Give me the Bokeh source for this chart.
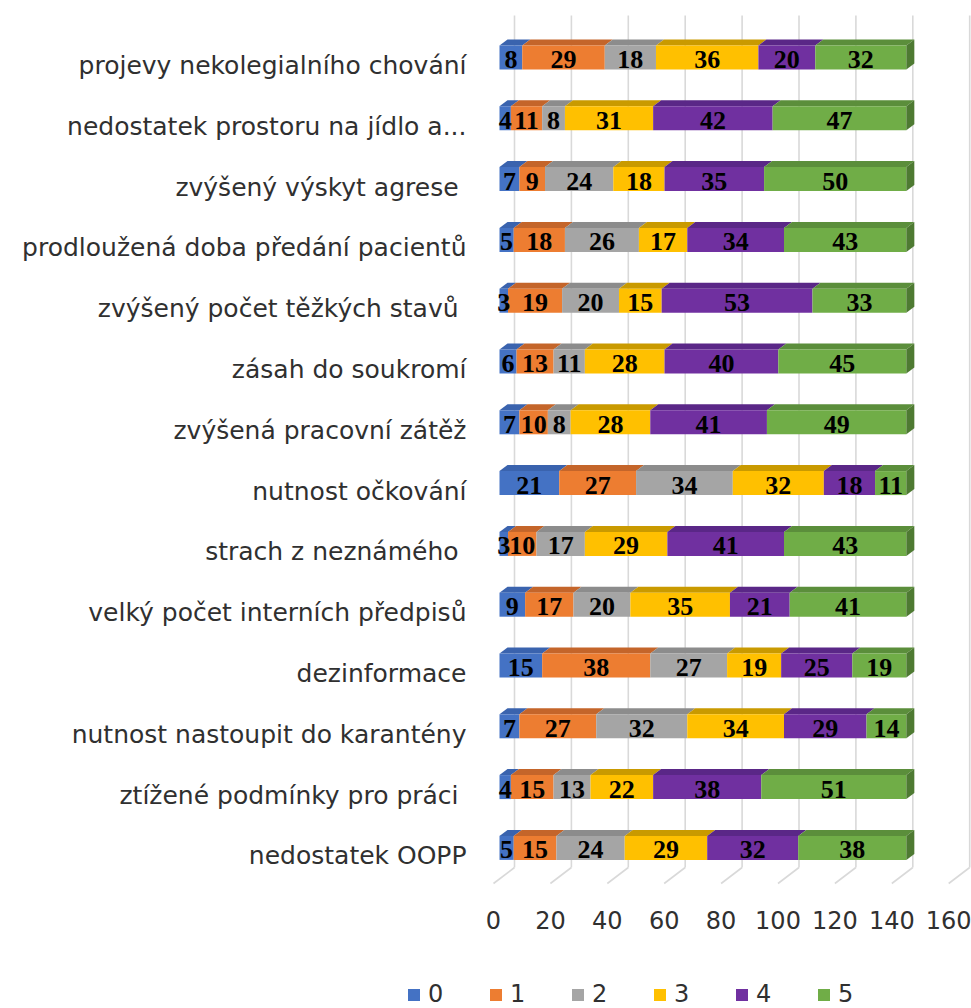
import numpy as np
from bokeh.plotting import figure
from bokeh.models import (Range1d, LinearAxis, FixedTicker, Legend, LegendItem,
                          ColumnDataSource)
from bokeh.core.properties import value
from bokeh.embed import file_html
from bokeh.resources import INLINE

# ---------------- data ----------------
categories = [
    "projevy nekolegialního chování",
    "nedostatek prostoru na jídlo a...",
    "zvýšený výskyt agrese ",
    "prodloužená doba předání pacientů",
    "zvýšený počet těžkých stavů ",
    "zásah do soukromí",
    "zvýšená pracovní zátěž",
    "nutnost očkování",
    "strach z neznámého ",
    "velký počet interních předpisů",
    "dezinformace",
    "nutnost nastoupit do karantény",
    "ztížené podmínky pro práci ",
    "nedostatek OOPP",
]
series_names = ["0", "1", "2", "3", "4", "5"]
s0 = [8, 4, 7, 5, 3, 6, 7, 21, 3, 9, 15, 7, 4, 5]
s1 = [29, 11, 9, 18, 19, 13, 10, 27, 10, 17, 38, 27, 15, 15]
s2 = [18, 8, 24, 26, 20, 11, 8, 34, 17, 20, 27, 32, 13, 24]
s3 = [36, 31, 18, 17, 15, 28, 28, 32, 29, 35, 19, 34, 22, 29]
s4 = [20, 42, 35, 34, 53, 40, 41, 18, 41, 21, 25, 29, 38, 32]
s5 = [32, 47, 50, 43, 33, 45, 49, 11, 43, 41, 19, 14, 51, 38]
series = [s0, s1, s2, s3, s4, s5]
x_ticks = [0, 20, 40, 60, 80, 100, 120, 140, 160]

# ---------------- styles ----------------
front_colors = ["#4472C4", "#ED7D31", "#A5A5A5", "#FFC000", "#7030A0", "#70AD47"]
top_colors = ["#3A63AE", "#C4652A", "#8C8C8C", "#C99A00", "#5A2787", "#5B8E3B"]
side_colors = ["#31548F", "#A95523", "#787878", "#A88000", "#4B2070", "#4E7A32"]
LABEL_FONT = "DejaVu Sans"
TEXT_COLOR = "#303030"

W, H = 971, 1008
K = 2.845          # px per value unit
R = 60.8           # px per category row
X0 = 499           # px of value 0 on the bar front
Y0 = 57            # px of first row centre
BAR_H = 24 / R
DX, DY = 8 / K, 6 / R            # bar depth
WALL_DX = 15 / K                 # grid wall behind bar front
FLOOR_DX = 6 / K                 # floor front before bar front
WALL_TOP = (15 - Y0) / R
FLOOR_BACK = (867 - Y0) / R
FLOOR_FRONT = (883 - Y0) / R

x_start, x_end = (0 - X0) / K, (W - X0) / K
y_start, y_end = (H - Y0) / R, (0 - Y0) / R

p = figure(width=W, height=H, x_range=Range1d(x_start, x_end),
           y_range=Range1d(y_start, y_end), x_axis_type=None, y_axis_type=None,
           toolbar_location=None, output_backend="svg", min_border=0)
p.outline_line_color = None
p.background_fill_color = "white"
p.border_fill_color = "white"

# ---------------- grid (wall + floor) ----------------
gx = np.array(x_ticks, dtype=float)
p.segment(x0=gx + WALL_DX, y0=[WALL_TOP] * len(gx), x1=gx + WALL_DX,
          y1=[FLOOR_BACK] * len(gx), line_color="#D9D9D9", line_width=1.6)
p.segment(x0=gx + WALL_DX, y0=[FLOOR_BACK] * len(gx), x1=gx - FLOOR_DX,
          y1=[FLOOR_FRONT] * len(gx), line_color="#D9D9D9", line_width=1.6)

# ---------------- bars ----------------
rows = np.arange(len(categories), dtype=float)
vals = np.array(series, dtype=float)
cum = np.vstack([np.zeros(len(categories)), np.cumsum(vals, axis=0)])

legend_items = []
for k, name in enumerate(series_names):
    left = cum[k]
    right = cum[k + 1]
    top = rows - BAR_H / 2
    xs = [[l, r, r + DX, l + DX] for l, r in zip(left, right)]
    ys = [[t, t, t - DY, t - DY] for t in top]
    p.patches(xs=xs, ys=ys, fill_color=top_colors[k], line_color=None)
    r = p.hbar(y=rows, left=left, right=right, height=BAR_H,
               fill_color=front_colors[k], line_color=None)
    legend_items.append(LegendItem(label=name, renderers=[r]))

# right side face of each stack
end = cum[-1]
xs = [[e, e + DX, e + DX, e] for e in end]
ys = [[i - BAR_H / 2, i - BAR_H / 2 - DY, i + BAR_H / 2 - DY, i + BAR_H / 2] for i in rows]
p.patches(xs=xs, ys=ys, fill_color=side_colors[5], line_color=None)

# data labels
lx, ly, lt = [], [], []
for k in range(len(series_names)):
    for i in range(len(categories)):
        lx.append((cum[k][i] + cum[k + 1][i]) / 2)
        ly.append(rows[i])
        lt.append(str(series[k][i]))
src = ColumnDataSource(dict(x=lx, y=ly, t=lt))
p.text(x="x", y="y", text="t", source=src, text_align="center",
       text_baseline="alphabetic", y_offset=2,
       text_font=value("Liberation Serif"), text_font_style="bold",
       text_font_size="26px", text_color="#000000")

# ---------------- axes ----------------
p.extra_x_ranges = {"lab": Range1d(x_start + FLOOR_DX, x_end + FLOOR_DX)}
LBL_SHIFT = 8 / R
p.extra_y_ranges = {"laby": Range1d(y_start - LBL_SHIFT, y_end - LBL_SHIFT)}

xaxis = LinearAxis(x_range_name="lab", ticker=FixedTicker(ticks=x_ticks),
                   fixed_location=FLOOR_FRONT)
xaxis.axis_line_color = None
xaxis.major_tick_line_color = None
xaxis.minor_tick_line_color = None
xaxis.major_tick_out = 0
xaxis.major_tick_in = 0
xaxis.major_label_standoff = 27
xaxis.major_label_text_font = LABEL_FONT
xaxis.major_label_text_font_size = "24px"
xaxis.major_label_text_color = TEXT_COLOR
p.add_layout(xaxis, "below")

yaxis = LinearAxis(y_range_name="laby",
                   ticker=FixedTicker(ticks=list(range(len(categories)))),
                   major_label_overrides={i: c for i, c in enumerate(categories)},
                   fixed_location=(476 - X0) / K)
yaxis.axis_line_color = None
yaxis.major_tick_line_color = None
yaxis.minor_tick_line_color = None
yaxis.major_tick_out = 0
yaxis.major_tick_in = 0
yaxis.major_label_standoff = 10
yaxis.major_label_text_font = LABEL_FONT
yaxis.major_label_text_font_size = "25px"
yaxis.major_label_text_color = TEXT_COLOR
p.add_layout(yaxis, "left")

# ---------------- legend ----------------
legend = Legend(items=legend_items, orientation="horizontal", location=(406, 0),
                glyph_width=15, glyph_height=15, label_standoff=7,
                label_width=40, spacing=20, padding=0, margin=0,
                border_line_color=None, background_fill_alpha=0,
                label_text_font=LABEL_FONT, label_text_font_size="24px",
                label_text_color=TEXT_COLOR)
p.add_layout(legend)

open("out.html", "w").write(file_html(p, INLINE))
